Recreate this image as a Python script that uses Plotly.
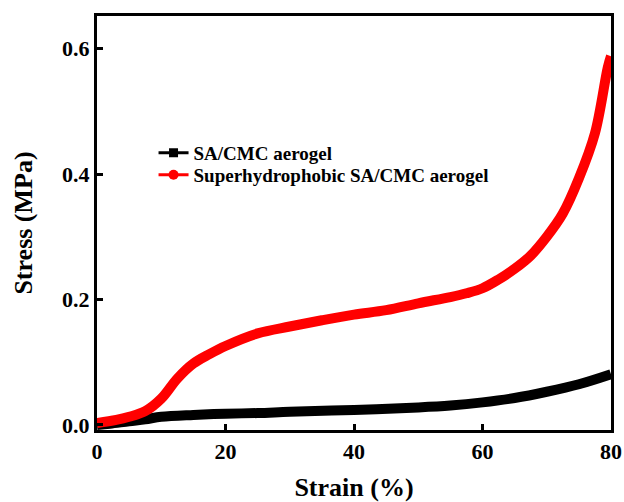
import plotly.graph_objects as go

# Compressive stress-strain data
strain_plain = [0, 2, 5, 7.5, 10, 15, 20, 25, 30, 40, 50, 55, 60, 65, 70, 75, 80]
stress_plain = [0.0, 0.002, 0.006, 0.009, 0.013, 0.016, 0.018, 0.019, 0.021,
                0.024, 0.028, 0.031, 0.036, 0.043, 0.053, 0.065, 0.081]

strain_sh = [0, 3, 5, 7.5, 10, 12.5, 15, 17.5, 20, 25, 30, 35, 40, 45, 50, 55,
             57.5, 60, 62.5, 65, 67.5, 70, 72.5, 75, 77.5, 79.5, 80]
stress_sh = [0.003, 0.008, 0.013, 0.022, 0.042, 0.074, 0.098, 0.113, 0.126,
             0.146, 0.157, 0.167, 0.176, 0.183, 0.194, 0.204, 0.210, 0.218,
             0.232, 0.249, 0.27, 0.3, 0.337, 0.393, 0.465, 0.57, 0.588]

series_names = ["SA/CMC aerogel", "Superhydrophobic SA/CMC aerogel"]
x_ticks = [0, 20, 40, 60, 80]
y_ticks = [0.0, 0.2, 0.4, 0.6]

FONT = "Liberation Serif"
BLACK = "#000000"
RED = "#ff0000"

fig = go.Figure()

# thick curves
fig.add_trace(go.Scatter(x=strain_plain, y=stress_plain, mode="lines",
                         line=dict(color=BLACK, width=10, shape="spline", smoothing=1.0),
                         showlegend=False))
fig.add_trace(go.Scatter(x=strain_sh, y=stress_sh, mode="lines",
                         line=dict(color=RED, width=10, shape="spline", smoothing=1.0),
                         showlegend=False))

# legend entries, one legend box per row
fig.add_trace(go.Scatter(x=[None], y=[None], mode="lines+markers", name=series_names[0],
                         line=dict(color=BLACK, width=3), legend="legend",
                         marker=dict(symbol="square", size=9, color=BLACK)))
fig.add_trace(go.Scatter(x=[None], y=[None], mode="lines+markers", name=series_names[1],
                         line=dict(color=RED, width=3), legend="legend2",
                         marker=dict(symbol="circle", size=10, color=RED)))

legend_style = dict(xanchor="left", yanchor="top", bgcolor="rgba(0,0,0,0)",
                    font=dict(family=FONT, size=19, weight="bold"))

fig.update_layout(
    width=624, height=502,
    margin=dict(l=97, r=13, t=16, b=72),
    paper_bgcolor="white", plot_bgcolor="white",
    font=dict(family=FONT, color=BLACK),
    legend=dict(x=0.11, y=0.715, **legend_style),
    legend2=dict(x=0.11, y=0.662, **legend_style),
)

fig.update_xaxes(
    range=[0, 80], tickvals=x_ticks, ticktext=[str(v) for v in x_ticks],
    ticks="inside", ticklen=6, tickwidth=3, tickcolor=BLACK,
    showline=True, linewidth=3, linecolor=BLACK, mirror=True,
    showgrid=False, zeroline=False, automargin=False,
    tickfont=dict(family=FONT, size=22, weight="bold"),
    title=dict(text="Strain (%)", font=dict(family=FONT, size=26, weight="bold"), standoff=20),
)
fig.update_yaxes(
    range=[-0.008, 0.652], tickvals=y_ticks, ticktext=[f"{v:.1f}" for v in y_ticks],
    ticks="inside", ticklen=6, tickwidth=3, tickcolor=BLACK,
    showline=True, linewidth=3, linecolor=BLACK, mirror=True,
    showgrid=False, zeroline=False, automargin=False,
    tickfont=dict(family=FONT, size=22, weight="bold"),
    title=dict(text="Stress (MPa)", font=dict(family=FONT, size=26, weight="bold"), standoff=22),
)

fig.write_html("out.html")
